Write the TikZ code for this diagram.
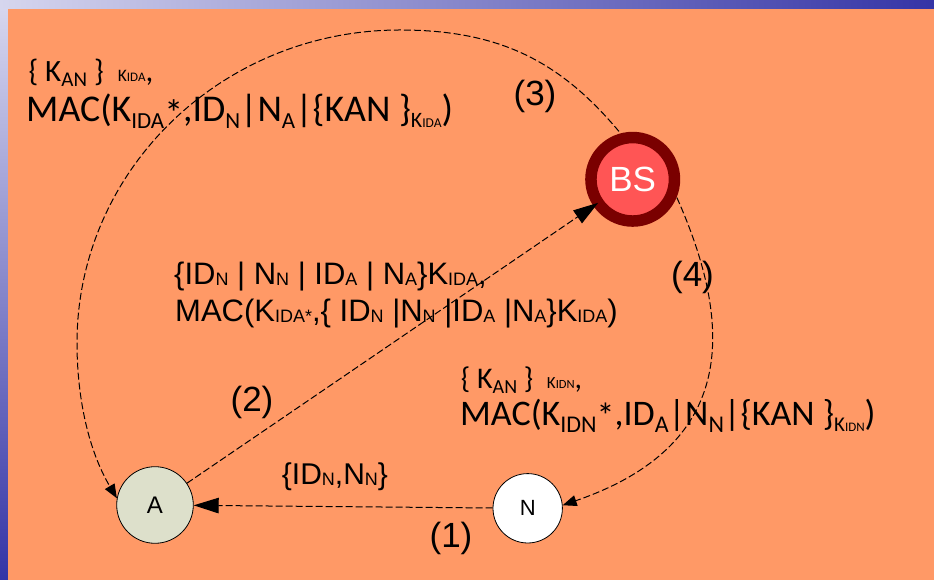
\documentclass[tikz,border=0pt]{standalone}
\usepackage{fontspec}
\setmainfont{Liberation Sans}
\newfontfamily\calibri{Carlito}
\usetikzlibrary{arrows.meta}

\definecolor{bgorange}{HTML}{FF9966}
\definecolor{anode}{HTML}{DDE0CB}
\definecolor{bsring}{HTML}{7A0000}
\definecolor{bscore}{HTML}{FF5555}
\definecolor{stripL}{HTML}{D6D6EE}
\definecolor{stripM}{HTML}{8686D2}
\definecolor{stripD}{HTML}{3434A6}

% font size in pt (1pt = 1 pixel of the drawing)
\newcommand\fsz[1]{\fontsize{#1}{#1}\selectfont}
% Arial-style subscript
\newcommand\asub[1]{\raisebox{-1pt}{\fsz{18}#1}}

\tikzset{
  msg/.style={draw=black, line width=1pt, dash pattern=on 7pt off 3pt},
  bighead/.style={-{Triangle[length=25pt,width=15.5pt]}},
  smallhead/.style={-{Triangle[length=14pt,width=11pt]}},
  txt/.style={anchor=base west, inner sep=0pt},
  steplabel/.style={anchor=base, inner sep=0pt, font=\fsz{35}},
  agent/.style={circle, draw=black, line width=0.8pt, inner sep=0pt}
}

\begin{document}
\begin{tikzpicture}[x=1pt,y=1pt]
\useasboundingbox (0,0) rectangle (934,580);

% backdrop
\shade[left color=stripL, middle color=stripM, right color=stripD] (0,571) rectangle (934,580);
\shade[top color=stripL, middle color=stripM, bottom color=stripD] (0,0) rectangle (8,571);
\fill[bgorange] (8,0) rectangle (934,571);

% participants
\node[agent, fill=anode, minimum size=76.6pt, font=\fsz{24}] (A) at (155,75) {A};
\node[agent, fill=white, minimum size=69.4pt, font=\fsz{22}] (N) at (527.7,71.7) {N};
\node[circle, draw=bsring, line width=11.5pt, fill=bscore, minimum size=83.5pt,
      inner sep=0pt, outer sep=0pt, text=white, font=\fsz{35}] (BS) at (632.7,400.7) {BS};

% (1) N -> A
\draw[msg, bighead] (N) -- (A);
% (2) A -> BS
\draw[msg, bighead] (A) -- (BS);
% (3) BS -> A, over the top
\coordinate (top3) at (400,550);
\coordinate (left3) at (77,237);
\draw[msg, smallhead, shorten <=9pt] (BS.101)
  .. controls +(130:100) and +(100,0) .. (top3)
  .. controls +(-178,0) and +(0,173) .. (left3)
  .. controls +(0,-55) and (88.5,129.6) .. (A.170);
% (4) BS -> N, down the right side
\draw[msg, smallhead, shorten <=9pt] (BS.-14)
  .. controls +(-66:170) and +(19:170) .. (N.5);

% message contents
\node[txt] (m3a) at (28.3,498.3) {\calibri\fsz{31}\{ K\raisebox{-4.8pt}{\fsz{21}AN} \}\ \ {\fsz{17.5}K\fsz{13}IDA},};
\node[txt] (m3b) at (26,458.3) {\calibri\fsz{37.8}MAC(K\raisebox{-7pt}{\fsz{23}IDA}\raisebox{-5pt}{*},ID\raisebox{-7pt}{\fsz{23}N}|N\raisebox{-7pt}{\fsz{23}A}|\{KAN \}\raisebox{-6pt}{\fsz{22}K\fsz{13.5}IDA})};

\node[txt] (m2a) at (174,295) {\fsz{31}\{ID\asub{N} | N\asub{N} | ID\asub{A} | N\asub{A}\}K\asub{IDA},};
\node[txt] (m2b) at (175,258.3) {\fsz{31}MAC(K\asub{IDA*},\{ ID\asub{N} |N\asub{N} |ID\asub{A} |N\asub{A}\}K\asub{IDA})};

\node[txt] (m4a) at (460.7,191) {\calibri\fsz{30}\{ K\raisebox{-4.6pt}{\fsz{20}AN} \}\ \ {\fsz{17}K\fsz{12.5}IDN},};
\node[txt] (m4b) at (460,154) {\calibri\fsz{36}MAC(K\raisebox{-6.5pt}{\fsz{24}IDN}\raisebox{-3pt}{*},ID\raisebox{-6.5pt}{\fsz{24}A}|N\raisebox{-6.5pt}{\fsz{24}N}|\{KAN \}\raisebox{-6pt}{\fsz{21}K\fsz{13}IDN})};

\node[txt] (m1) at (281.7,95) {\fsz{30}\{ID\asub{N},N\asub{N}\}};

% step numbers
\node[steplabel] (s1) at (451,32.7) {(1)};
\node[steplabel] (s2) at (252,168) {(2)};
\node[steplabel] (s3) at (535,474.3) {(3)};
\node[steplabel] (s4) at (692.5,293) {(4)};
\end{tikzpicture}
\end{document}
